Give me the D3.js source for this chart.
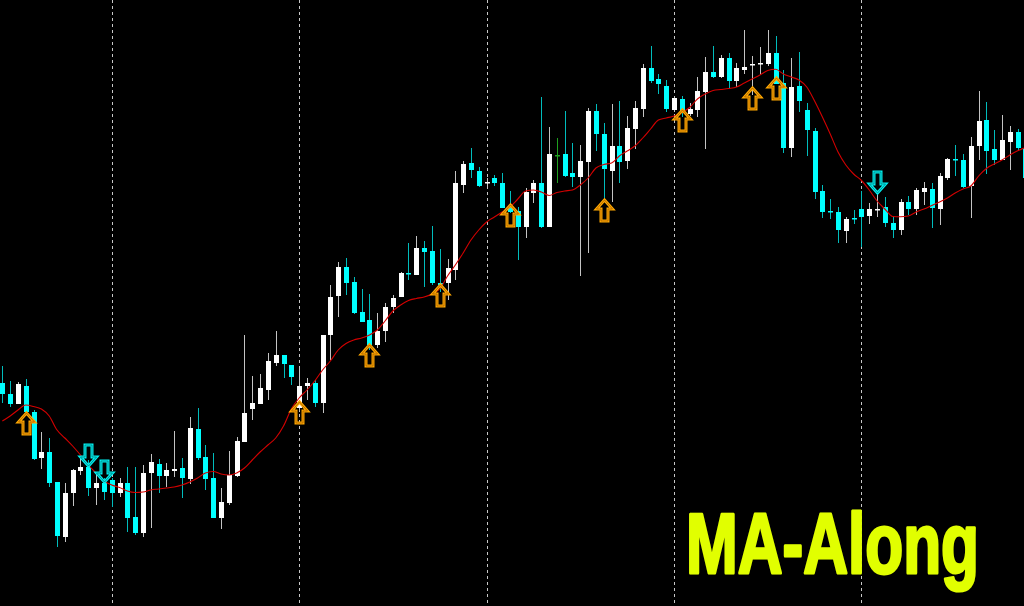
<!DOCTYPE html>
<html>
<head>
<meta charset="utf-8">
<script src="https://cdn.jsdelivr.net/npm/d3@7"></script>
<style>
html,body{margin:0;padding:0;background:#000;overflow:hidden;}
svg{display:block;}
</style>
</head>
<body>
<svg id="chart" width="1024" height="606"></svg>
<script>
// ---- data (price levels) ----
const opens  = [223,212,202,220,194,148,154,124,69,113,135,139,118,123,126,113,123,89,73,133,142,130,135,138,127,177,149,128,88,103,130,164,197,202,216,243,251,241,198,220,223,203,271,310,339,324,294,286,261,275,299,309,333,331,358,355,323,323,336,421,443,435,423.5,428,423,399,395,379,413,423,379,451,452,433,429,444,495,472,435,460,445,477,497,538,527,520,496,507,492,496,514,534,529,548,525,536,540.5,541.3,542,553,523,458,520,496,475,415,395,394,375,388,397,390,396,399,383,376,404,397,414,417,397,428,447,446,420,460,486,457,446,464,474,458];
const highs  = [240,225,224,227,196,174,168,124,123,137,149,146,133,128,128,128,139,139,141,152,147,143,175,148,189,198,161,153,118,155,169,271,230,232,253,275,251,241,239,228,226,271,321,344,348,329,317,312,293,303,311,334,363,370,365,380,357,347,435,445,458,439,428,431,433,415,399,418,426,509,479,468,495,463,461,498,502,483,502,505,490,505,542,560,532,526,509,510,503,529,549,560,551,553,543,576,550,559,576,570,536,548,554,503,478,421,407,399,389,396,415,403,413,409,390,407,410,418,424,423,433,448,461,452,469,515,504,476,491,480,477,466];
const lows   = [203,199,202,191,146,137,119,59,64,100,131,110,101,106,99,109,74,71,69,78,113,119,129,108,122,146,116,88,77,101,129,164,186,202,206,240,228,221,194,206,199,193,246,289,311,292,284,256,258,264,293,309,326,331,319,321,314,306,326,413,428,419,419,420,398,393,346,368,403,378,379,423,429,419,330,353,455,406,404,423,437,457,489,523,512,494,494,489,490,489,457,528,528,517,519,532,511,531,540,522,453,449,494,450,407,388,387,363,363,382,359,382,389,379,368,371,391,391,401,378,381,426,430,418,388,446,432,441,446,436,455,424];
const closes = [212,202,222,194,147,154,123,70,113,136,139,118,123,114,113,123,88,73,133,144,130,136,137,128,178,148,127,88,104,131,165,193,203,218,245,251,242,229,220,223,203,271,309,339,323,293,284,261,275,299,308,333,332,358,354,323,321,338,423,442,436,420,424.5,423,398,394,379,414,423,379,452,451,430,429,445,495,472,437,460,444,478,498,538,525,522,497,508,493,497,515,534,529,548,525,538,539,542,542.7,553,522,458,519,505,476,414,394,394,376,387,387,389,397,397,383,376,404,397,416,418,398,430,447,446,419,460,485,455,446,466,474,458,428];
const maValues = [185,190,196,201,199.5,197,190,176,168,160,151,141,133,125,121,118.5,115,113.5,114,116,117,118,119,121,124,128,133,134.5,132,131,133,138,146,154,161,168,180,197,208,216,225,236,245,256,262.5,266,268,271,276,285,295,301,305.5,307.5,309,312,317,330,341,353,366,376,384,389,394,399,407,415,416,414,410.5,413.5,415,416,421,428,438,441.5,443,450,455,460,468,477,486,488,490,493.5,498.5,507,512,515.5,516.5,517.5,519,523,527,531,535.5,536.7,532,529,526,519,505,489,472,454,441,432,425.5,416,405,397,389.5,389.3,390,394,397,400.5,404,408,413,417,420,430,437.5,442,446,451,455.3,458.5];
const greenDojiBars = [71];
const daySeparatorBars = [14,38,62,86,110];
const buyArrowBars   = [3,38,47,56,65,77,87,96,99];
const buyArrowLevels = [193,204,261,321,401,406,496,518,528];
const sellArrowBars   = [11,13,112];
const sellArrowLevels = [140,124.3,413];
const titleText = "MA-Along";

// ---- drawing ----
const W = 1024, H = 606;
const svg = d3.select("#chart");
svg.append("rect").attr("width", W).attr("height", H).attr("fill", "#000");

const n = opens.length;
const x = d3.scaleLinear().domain([-0.5, n - 0.5]).range([-1.55, -1.55 + n * 7.81]);
const y = d3.scaleLinear().domain([0, 606]).range([606, 0]);

const candles = d3.range(n).map(i => ({i, o: opens[i], h: highs[i], l: lows[i], c: closes[i], ma: maValues[i]}));

// day separators
svg.append("g").selectAll("line").data(daySeparatorBars).join("line")
  .attr("x1", d => Math.round(x(d)) + 0.5).attr("x2", d => Math.round(x(d)) + 0.5)
  .attr("y1", 0).attr("y2", H)
  .attr("stroke", "#c8c8c8").attr("stroke-width", 1).attr("stroke-dasharray", "3,3");

const upWick = "#c4c4c4", dnWick = "#00bcbc";
const upBody = "#ffffff", dnBody = "#00ffff", green = "#1fa01f";

const g = svg.append("g");
const cx = d => Math.round(x(d.i)) + 0.5;
const isGreen = d => greenDojiBars.includes(d.i);

// wicks
g.selectAll("line.wick").data(candles).join("line").attr("class", "wick")
  .attr("x1", cx).attr("x2", cx)
  .attr("y1", d => y(d.h)).attr("y2", d => y(d.l))
  .attr("stroke", d => isGreen(d) ? green : (d.c >= d.o ? upWick : dnWick))
  .attr("stroke-width", 1);

// bodies
g.selectAll("rect.body").data(candles).join("rect").attr("class", "body")
  .attr("x", d => Math.round(x(d.i)) - 2)
  .attr("width", 5)
  .attr("y", d => Math.round(y(Math.max(d.o, d.c))))
  .attr("height", d => Math.max(1.5, Math.abs(y(d.o) - y(d.c))))
  .attr("fill", d => isGreen(d) ? green : (d.c >= d.o ? upBody : dnBody));

// moving average
const line = d3.line().x(d => x(d.i)).y(d => y(d.ma)).curve(d3.curveMonotoneX);
svg.append("path").datum(candles).attr("d", line)
  .attr("fill", "none").attr("stroke", "#d40000").attr("stroke-width", 1.1);

// arrows
const upPts = [[0,0],[8,9],[3.5,9],[3.5,21],[-3.5,21],[-3.5,9],[-8,9]];
const arrowPath = (dir) => "M" + upPts.map(p => [p[0], p[1] * dir].join(",")).join("L") + "Z";
const buys = buyArrowBars.map((b, k) => ({i: b, v: buyArrowLevels[k]}));
const sells = sellArrowBars.map((b, k) => ({i: b, v: sellArrowLevels[k]}));

function drawArrows(data, dir, outer, inner) {
  const ag = svg.append("g");
  const sel = ag.selectAll("g").data(data).join("g")
    .attr("transform", d => `translate(${Math.round(x(d.i)) + 0.5},${Math.round(y(d.v))})`);
  sel.append("path").attr("d", arrowPath(dir)).attr("fill", "none")
    .attr("stroke", outer).attr("stroke-width", 3).attr("stroke-linejoin", "miter");
  sel.append("path").attr("d", arrowPath(dir)).attr("fill", "none")
    .attr("stroke", inner).attr("stroke-width", 0.8);
}
drawArrows(buys, 1, "#ffa800", "#a86000");
drawArrows(sells, -1, "#00f0f0", "#008080");

// title
svg.append("text").text(titleText)
  .attr("x", 686).attr("y", 573)
  .attr("font-family", "'Liberation Sans', Arial, sans-serif")
  .attr("font-weight", "bold").attr("font-size", 85)
  .attr("textLength", 293).attr("lengthAdjust", "spacingAndGlyphs")
  .attr("fill", "#e1ff00")
  .attr("stroke", "#e1ff00").attr("stroke-width", 3).attr("stroke-linejoin", "round");
</script>
</body>
</html>
